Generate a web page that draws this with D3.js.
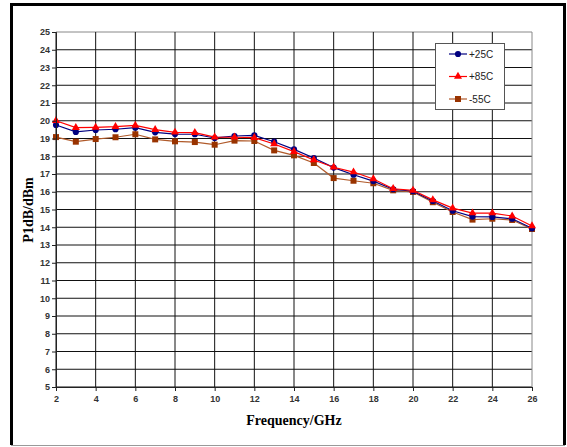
<!DOCTYPE html>
<html>
<head>
<meta charset="utf-8">
<script src="https://cdn.jsdelivr.net/npm/d3@7"></script>
<style>
  body { margin: 0; background: #fff; }
  svg { display: block; }
</style>
</head>
<body>
<svg id="chart"></svg>
<script>
// frequency points (GHz)
var freq = [2, 3, 4, 5, 6, 7, 8, 9, 10, 11, 12, 13, 14, 15, 16, 17, 18, 19, 20, 21, 22, 23, 24, 25, 26];

// P1dB values (dBm)
var p25 = [19.76, 19.37, 19.48, 19.52, 19.61, 19.35, 19.25, 19.24, 19.03, 19.14, 19.18, 18.82, 18.39,
  17.9, 17.36, 16.96, 16.6, 16.14, 16.03, 15.48, 14.93, 14.6, 14.58, 14.48, 13.94];
var p85 = [20.0, 19.61, 19.63, 19.67, 19.74, 19.5, 19.35, 19.33, 19.08, 19.07, 19.05, 18.69, 18.26,
  17.79, 17.38, 17.11, 16.72, 16.17, 16.08, 15.54, 15.08, 14.8, 14.8, 14.63, 14.07];
var m55 = [19.08, 18.82, 18.97, 19.07, 19.24, 18.95, 18.84, 18.8, 18.65, 18.88, 18.86, 18.33, 18.05,
  17.62, 16.77, 16.62, 16.48, 16.08, 15.99, 15.41, 14.86, 14.43, 14.48, 14.41, 13.9];

var seriesNames = ["+25C", "+85C", "-55C"];
var xTicks = [2, 4, 6, 8, 10, 12, 14, 16, 18, 20, 22, 24, 26];
var yTicks = d3.range(5, 26);

var W = 567, H = 447;
var margin = { top: 32, right: 35, bottom: 60, left: 56 };

var svg = d3.select("#chart").attr("width", W).attr("height", H);

// outer frame
svg.append("path")
  .attr("d", "M11.5,445 L11.5,4.5 L564.5,4.5 L564.5,445")
  .attr("fill", "none").attr("stroke", "#000").attr("stroke-width", 3);
svg.append("line")
  .attr("x1", 11).attr("x2", 565).attr("y1", 445.5).attr("y2", 445.5)
  .attr("stroke", "#999").attr("stroke-width", 1);

var x = d3.scaleLinear().domain([2, 26]).range([56, 532]);
var y = d3.scaleLinear().domain([5, 25]).range([387, 32]);

var g = svg.append("g");

// grid
g.selectAll(".hgrid").data(yTicks).enter().append("line")
  .attr("x1", x(2)).attr("x2", x(26))
  .attr("y1", function (d) { return y(d); }).attr("y2", function (d) { return y(d); })
  .attr("stroke", function (d) { return d === 25 ? "#888" : "#111"; })
  .attr("stroke-width", 1);
g.selectAll(".vgrid").data(xTicks).enter().append("line")
  .attr("y1", y(5)).attr("y2", y(25))
  .attr("x1", function (d) { return x(d); }).attr("x2", function (d) { return x(d); })
  .attr("stroke", function (d) { return d === 26 ? "#888" : "#111"; })
  .attr("stroke-width", 1);

// axes
var yAxis = svg.append("g")
  .attr("transform", "translate(" + x(2) + ",0)")
  .call(d3.axisLeft(y).tickValues(yTicks).tickSize(4).tickPadding(2).tickFormat(d3.format("d")));
var xAxis = svg.append("g")
  .attr("transform", "translate(0," + y(5) + ")")
  .call(d3.axisBottom(x).tickValues(xTicks).tickSize(4).tickPadding(5).tickFormat(d3.format("d")));

[yAxis, xAxis].forEach(function (a) {
  a.select(".domain").attr("stroke", "#222");
  a.selectAll(".tick line").attr("stroke", "#222");
  a.selectAll("text")
    .style("font-family", "Liberation Sans, Arial, sans-serif")
    .style("font-size", "9px")
    .style("font-weight", "bold")
    .attr("fill", "#333");
});

// axis titles
svg.append("text")
  .attr("transform", "translate(33,210) rotate(-90)")
  .attr("text-anchor", "middle")
  .style("font-family", "Liberation Serif, Times New Roman, serif")
  .style("font-size", "14px")
  .style("font-weight", "bold")
  .text("P1dB/dBm");

svg.append("text")
  .attr("x", 294).attr("y", 425)
  .attr("text-anchor", "middle")
  .style("font-family", "Liberation Serif, Times New Roman, serif")
  .style("font-size", "14px")
  .style("font-weight", "bold")
  .text("Frequency/GHz");

// series
var series = [
  { name: seriesNames[0], values: p25, line: "#000080", fill: "#000080", shape: d3.symbolCircle, size: 30 },
  { name: seriesNames[1], values: p85, line: "#ff0000", fill: "#ff0000", shape: d3.symbolTriangle, size: 28 },
  { name: seriesNames[2], values: m55, line: "#b05a2a", fill: "#993300", shape: d3.symbolSquare, size: 36 }
];

var line = d3.line()
  .x(function (d) { return x(d[0]); })
  .y(function (d) { return y(d[1]); });

// draw brown first, then blue, then red on top
[2, 0, 1].forEach(function (i) {
  var s = series[i];
  var pts = freq.map(function (f, k) { return [f, s.values[k]]; });
  g.append("path")
    .datum(pts)
    .attr("d", line)
    .attr("fill", "none")
    .attr("stroke", s.line)
    .attr("stroke-width", 1.2);
  g.selectAll(".m" + i).data(pts).enter().append("path")
    .attr("transform", function (d) { return "translate(" + x(d[0]) + "," + y(d[1]) + ")"; })
    .attr("d", d3.symbol().type(s.shape).size(s.size))
    .attr("fill", s.fill);
});

// legend
var legend = svg.append("g");
legend.append("rect")
  .attr("x", 435.5).attr("y", 43.5).attr("width", 69).attr("height", 66)
  .attr("fill", "#fff").attr("stroke", "#555").attr("stroke-width", 1);

series.forEach(function (s, i) {
  var ly = 54 + i * 22.5;
  legend.append("line")
    .attr("x1", 449).attr("x2", 467).attr("y1", ly).attr("y2", ly)
    .attr("stroke", s.line).attr("stroke-width", 1.2);
  legend.append("path")
    .attr("transform", "translate(458," + ly + ")")
    .attr("d", d3.symbol().type(s.shape).size(s.size))
    .attr("fill", s.fill);
  legend.append("text")
    .attr("x", 469).attr("y", ly + 3.5)
    .style("font-family", "Liberation Sans, Arial, sans-serif")
    .style("font-size", "10px")
    .attr("fill", "#222")
    .text(s.name);
});
</script>
</body>
</html>
